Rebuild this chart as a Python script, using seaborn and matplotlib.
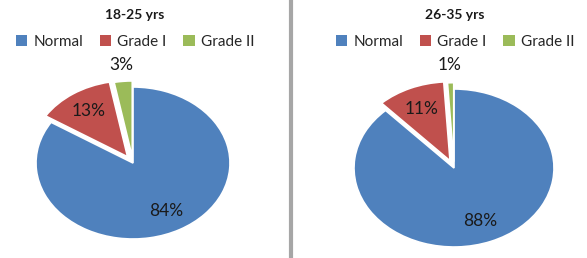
import numpy as np
import matplotlib
matplotlib.use("Agg")
import matplotlib.pyplot as plt
import seaborn as sns
from matplotlib.lines import Line2D
from matplotlib.patches import Patch

sns.set_theme(style="white")
plt.rcParams['font.family'] = ['Lato', 'DejaVu Sans']

categories = ["Normal", "Grade I", "Grade II"]
titles = ["18-25 yrs", "26-35 yrs"]
values_1825 = [84, 13, 3]
values_2635 = [88, 11, 1]
colors = ["#4F81BD", "#C0504D", "#9BBB59"]
explode = [0.0, 0.1, 0.08]
label_dist = [0.72, 0.72, 1.22]

W, H = 587, 258
fig = plt.figure(figsize=(W / 100, H / 100), dpi=100)

def add_pie(values, title, cx, cy, rx, ry, legend_cx):
    lim = 1.35
    aw, ah = 2 * lim * rx, 2 * lim * ry
    ax = fig.add_axes([(cx - aw / 2) / W, (H - cy - ah / 2) / H, aw / W, ah / H])
    wedges, _ = ax.pie(values, colors=colors, startangle=90, counterclock=False,
                       explode=explode, wedgeprops=dict(edgecolor="white", linewidth=1.2))
    ax.set_aspect("auto")
    ax.set_xlim(-lim, lim)
    ax.set_ylim(-lim, lim)
    ax.axis("off")
    for w, v, d in zip(wedges, values, label_dist):
        ang = np.deg2rad((w.theta1 + w.theta2) / 2)
        x0, y0 = w.center
        ax.text(x0 + d * np.cos(ang), y0 + d * np.sin(ang), f"{v}%",
                ha="center", va="center", fontsize=12.5, color="#1a1a1a")
    fig.text(legend_cx / W, 1 - 15 / H, title, ha="center", va="center",
             fontsize=10, fontweight="bold", color="#1a1a1a")
    handles = [Patch(facecolor=c, edgecolor="none") for c in colors]
    fig.legend(handles, categories, loc="center", bbox_to_anchor=(legend_cx / W, 1 - 42 / H),
               ncol=3, frameon=False, fontsize=11, handlelength=0.75, handleheight=0.75,
               handletextpad=0.4, columnspacing=1.1)

add_pie(values_1825, titles[0], 133, 163, 97, 76, 135)
add_pie(values_2635, titles[1], 454, 168, 100, 79, 455)

fig.add_artist(Line2D([291 / W, 291 / W], [0, 1], color="#a6a6a6", linewidth=3))

fig.savefig("out.png", dpi=100)
